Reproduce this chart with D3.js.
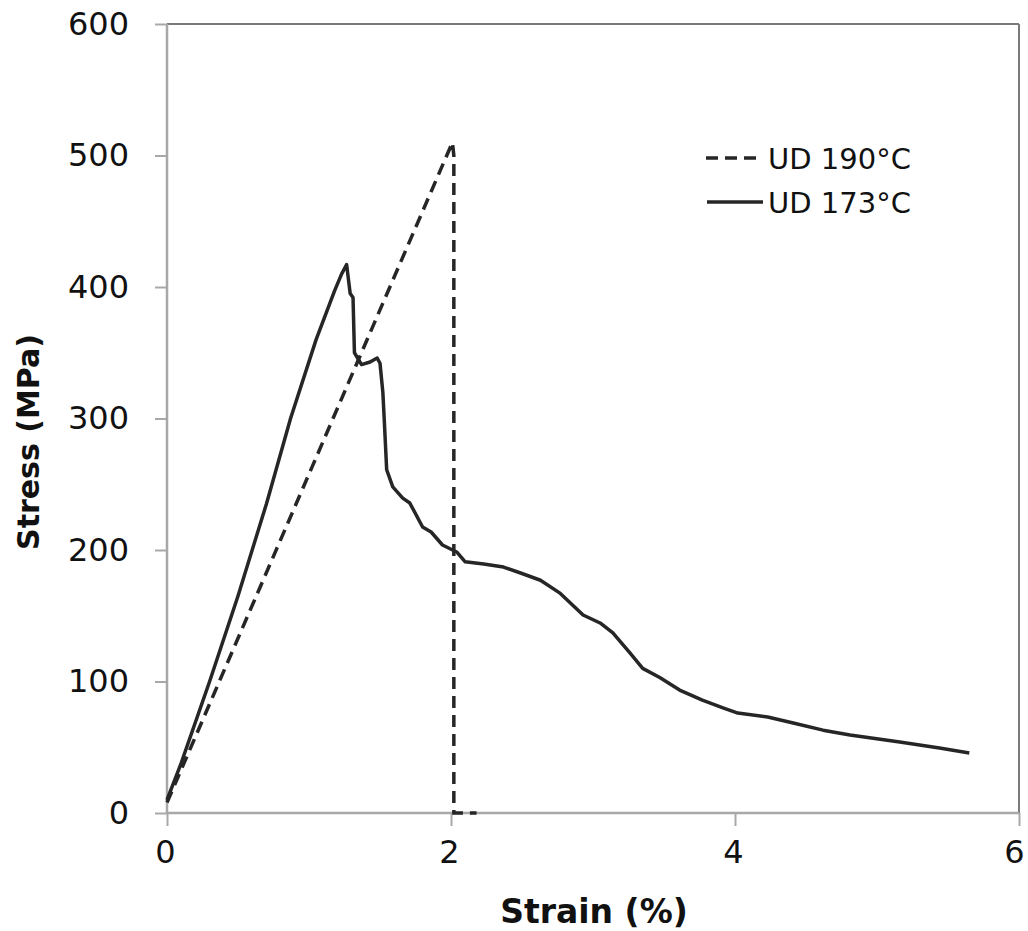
<!DOCTYPE html>
<html><head><meta charset="utf-8">
<script src="https://cdn.jsdelivr.net/npm/d3@7"></script>
<style>body{margin:0;background:#fff}svg{display:block}</style>
</head><body>
<svg id="c" width="1028" height="931"></svg>
<script>
// Data (strain %, stress MPa)
const ud190Strain = [0, 2.01, 2.02, 2.02, 2.18];
const ud190Stress = [8, 510, 500, 0, 0];
const ud173Strain = [0, 0.1, 0.3, 0.5, 0.7, 0.87, 1.05, 1.12, 1.18, 1.23, 1.265, 1.29, 1.31, 1.32, 1.37, 1.43, 1.48, 1.50, 1.52, 1.53, 1.547, 1.59, 1.66, 1.71, 1.80, 1.86, 1.94, 2.04, 2.10, 2.23, 2.37, 2.49, 2.63, 2.77, 2.93, 3.05, 3.14, 3.26, 3.35, 3.47, 3.61, 3.77, 3.92, 4.02, 4.23, 4.41, 4.62, 4.81, 5.16, 5.44, 5.65];
const ud173Stress = [10, 38, 100, 165, 235, 300, 360, 380, 397, 410, 417, 395, 392, 350, 341, 343, 346, 342, 320, 299, 261, 248, 239.5, 235.7, 217.5, 213.7, 203.8, 198.5, 191, 189.4, 187, 182.5, 177, 167, 150.6, 144.5, 136.9, 121.7, 110, 103, 93.5, 85.9, 79.8, 76, 73, 68.4, 63, 59.3, 54, 49.4, 45.6];
const xTicks = [0, 2, 4, 6];
const yTicks = [0, 100, 200, 300, 400, 500, 600];
const seriesNames = ["UD 190°C", "UD 173°C"];

const svg = d3.select("#c");
const x = d3.scaleLinear().domain([0, 6]).range([167, 1019]);
const y = d3.scaleLinear().domain([0, 600]).range([813, 24]);
const tickFont = "'DejaVu Sans', Verdana, sans-serif";

// frame top/right
svg.append("line").attr("x1", 167).attr("x2", 1019).attr("y1", 24).attr("y2", 24).attr("stroke", "#7a7a7a").attr("stroke-width", 2);
svg.append("line").attr("x1", 1019).attr("x2", 1019).attr("y1", 24).attr("y2", 813).attr("stroke", "#7a7a7a").attr("stroke-width", 2);

const xAxis = svg.append("g").attr("transform", "translate(0,813)")
  .call(d3.axisBottom(x).tickValues(xTicks).tickSize(13).tickPadding(14).tickFormat(d3.format("d")));
const yAxis = svg.append("g").attr("transform", "translate(167,0)")
  .call(d3.axisLeft(y).tickValues(yTicks).tickSize(12).tickPadding(26).tickFormat(d3.format("d")));
[xAxis, yAxis].forEach(g => {
  g.select(".domain").attr("stroke", "#a8a8a8").attr("stroke-width", 2.5);
  g.selectAll(".tick line").attr("stroke", "#a8a8a8").attr("stroke-width", 2);
  g.selectAll(".tick text").attr("font-family", tickFont).attr("font-size", 32).attr("fill", "#111");
});
xAxis.selectAll(".tick text").attr("dx", (d, i) => i === xTicks.length - 1 ? -5 : -2);
yAxis.select(".domain").attr("d", "M0,813V24");
xAxis.select(".domain").attr("d", "M167,0H1019");

const line = d3.line().x(d => x(d[0])).y(d => y(d[1]));
const d190 = ud190Strain.map((v, i) => [v, ud190Stress[i]]);
const d173 = ud173Strain.map((v, i) => [v, ud173Stress[i]]);

svg.append("path").attr("d", line(d173)).attr("fill", "none").attr("stroke", "#262626").attr("stroke-width", 3.5).attr("stroke-linejoin", "round");
svg.append("path").attr("d", line(d190)).attr("fill", "none").attr("stroke", "#262626").attr("stroke-width", 3.5).attr("stroke-dasharray", "12,7");

// legend
const lg = svg.append("g");
lg.append("line").attr("x1", 706).attr("x2", 762).attr("y1", 158).attr("y2", 158).attr("stroke", "#262626").attr("stroke-width", 3.5).attr("stroke-dasharray", "12,7");
lg.append("text").attr("x", 768).attr("y", 169).text(seriesNames[0]).attr("font-family", tickFont).attr("font-size", 29).attr("fill", "#111");
lg.append("line").attr("x1", 707).attr("x2", 763).attr("y1", 202).attr("y2", 202).attr("stroke", "#262626").attr("stroke-width", 3.5);
lg.append("text").attr("x", 768).attr("y", 213).text(seriesNames[1]).attr("font-family", tickFont).attr("font-size", 29).attr("fill", "#111");

// axis titles
svg.append("text").attr("x", 594).attr("y", 923).attr("text-anchor", "middle")
  .attr("font-family", tickFont).attr("font-weight", "bold").attr("font-size", 33).attr("fill", "#111").text("Strain (%)");
svg.append("text").attr("transform", "translate(39,442) rotate(-90)").attr("text-anchor", "middle")
  .attr("font-family", tickFont).attr("font-weight", "bold").attr("font-size", 30).attr("fill", "#111").text("Stress (MPa)");
</script>
</body></html>
